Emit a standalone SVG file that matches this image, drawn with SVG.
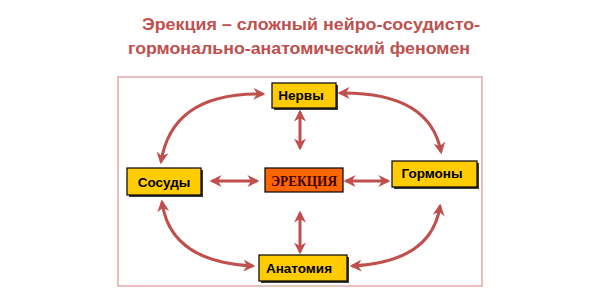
<svg xmlns="http://www.w3.org/2000/svg" width="600" height="306" viewBox="0 0 600 306">
<defs>
<marker id="ah" viewBox="0 0 10 10" refX="8" refY="5" markerWidth="4" markerHeight="4" orient="auto-start-reverse" markerUnits="strokeWidth">
<path d="M0,0 L10,5 L0,10 L3,5 Z" fill="#c0504d"/>
</marker>
</defs>
<style>
.title{font-family:"Liberation Sans",Arial,sans-serif;font-weight:bold;font-size:17px;fill:#c0504d}
.box{fill:#ffcc00;stroke:#000;stroke-width:1.2}
.shadow{fill:#3a3a3a}
.lbl{font-family:"Liberation Sans",Arial,sans-serif;font-weight:bold;font-size:13.5px;fill:#000}
.conn{fill:none;stroke:#c0504d;stroke-width:3;marker-start:url(#ah);marker-end:url(#ah)}
</style>
<rect width="600" height="306" fill="#fff"/>
<text class="title" x="142" y="30" textLength="338" lengthAdjust="spacingAndGlyphs">Эрекция – сложный нейро-сосудисто-</text>
<text class="title" x="128" y="54" textLength="342" lengthAdjust="spacingAndGlyphs">гормонально-анатомический феномен</text>
<rect x="118" y="77" width="364" height="209" fill="none" stroke="#d99694" stroke-width="1.2"/>
<g id="connectors">
<path class="conn" d="M263,94 Q172,92 161,162"/>
<path class="conn" d="M340,93 Q430,92 441,152"/>
<path class="conn" d="M162,202 Q170,262 253,266"/>
<path class="conn" d="M440,206 Q432,262 352,266"/>
<path class="conn" d="M300,112 L300,148"/>
<path class="conn" d="M300,213 L300,252"/>
<path class="conn" d="M212,181 L257,181"/>
<path class="conn" d="M346,181 L388,181"/>
</g>
<g id="nervy">
<rect class="shadow" x="274" y="85" width="64" height="25"/>
<rect class="box" x="272" y="83" width="64" height="25"/>
<text class="lbl" x="301" y="100" text-anchor="middle">Нервы</text>
</g>
<g id="sosudy">
<rect class="shadow" x="129" y="170" width="74" height="27"/>
<rect class="box" x="127" y="168" width="74" height="27"/>
<text class="lbl" x="164" y="187" text-anchor="middle">Сосуды</text>
</g>
<g id="gormony">
<rect class="shadow" x="394" y="163" width="85" height="26"/>
<rect class="box" x="392" y="161" width="85" height="26"/>
<text class="lbl" x="432" y="178" text-anchor="middle">Гормоны</text>
</g>
<g id="erekciya">
<rect x="265" y="168" width="78" height="24" fill="#ff6600" stroke="#000" stroke-width="1.2"/>
<text x="304" y="185.5" text-anchor="middle" font-family="Liberation Serif,'Times New Roman',serif" font-weight="bold" font-size="14" fill="#3a0000" textLength="66" lengthAdjust="spacingAndGlyphs">ЭРЕКЦИЯ</text>
</g>
<g id="anatomiya">
<rect class="shadow" x="261" y="257" width="88" height="26"/>
<rect class="box" x="259" y="255" width="88" height="26"/>
<text class="lbl" x="299" y="273" text-anchor="middle">Анатомия</text>
</g>
</svg>
